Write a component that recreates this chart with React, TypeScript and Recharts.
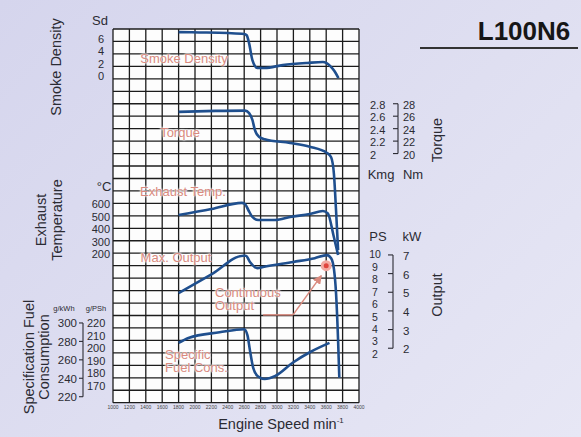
import React from "react";
import {
  LineChart,
  Line,
  XAxis,
  YAxis,
  CartesianGrid,
  ReferenceLine,
  ReferenceDot,
} from "recharts";

const FONT = '"Liberation Sans", Arial, Helvetica, sans-serif';
const INK = "#2b2b33";
const CURVE = "#1f4f8e";
const PINK = "#d98a7e";

// engine speed axis + grid rows
const rpmTicks = [1000, 1200, 1400, 1600, 1800, 2000, 2200, 2400, 2600, 2800, 3000, 3200, 3400, 3600, 3800, 4000];
const gridRows = Array.from({ length: 31 }, (_, i) => i);

// scale tick labels
const sdTicks = [0, 2, 4, 6];
const tempTicks = [200, 300, 400, 500, 600];
const gkwhTicks = [220, 240, 260, 280, 300];
const gpshTicks = [170, 180, 190, 200, 210, 220];
const kmgTicks = [2, 2.2, 2.4, 2.6, 2.8];
const nmTicks = [20, 22, 24, 26, 28];
const psTicks = [2, 3, 4, 5, 6, 7, 8, 9, 10];
const kwTicks = [2, 3, 4, 5, 6, 7];

// each scale only covers a few rows of the common grid (30 rows)
const PLOT_H = 373.7;
const SD_DOMAIN = [-52, 8];
const TEMP_DOMAIN = [-1000, 2000];
const NM_DOMAIN = [-20, 40];
const KMG_DOMAIN = [-2, 4];
const PS_DOMAIN = [-2, 28];
const KW_DOMAIN = [-0.92, 19.11];
const GPSH_DOMAIN = [156, 456];
const GKWH_DOMAIN = [213.5, 618.9];

// curves
const smokeRpm = [1800, 2050, 2400, 2600, 2630, 2660, 2700, 2760, 2850, 3070, 3370, 3560, 3650, 3700, 3750];
const smokeSd = [7.5, 7.45, 7.35, 7.2, 7.0, 5.7, 3.0, 1.75, 1.75, 2.2, 2.55, 2.7, 2.05, 1.25, 0.1];

const torqueRpm = [1800, 2250, 2610, 2660, 2700, 2730, 2780, 2850, 3160, 3400, 3610, 3660, 3695, 3720, 3745];
const torqueNm = [26.7, 26.85, 26.9, 26.5, 25.4, 23.8, 22.7, 22.3, 21.7, 21.1, 20.1, 19.4, 16.6, 10.9, 4.5];

const exhaustRpm = [1800, 2200, 2570, 2610, 2650, 2700, 2770, 2980, 3160, 3400, 3560, 3620, 3690, 3745];
const exhaustC = [507, 555, 604, 595, 547, 491, 467, 467, 491, 515, 539, 520, 340, 186];

const maxOutRpm = [1800, 2200, 2590, 2620, 2670, 2760, 2830, 3200, 3460, 3610, 3660, 3695, 3720, 3745, 3760];
const maxOutPs = [6.8, 8.3, 9.8, 9.8, 9.3, 8.8, 8.9, 9.3, 9.6, 9.85, 9.6, 8.7, 6.8, 3.0, 0];

const fuelRpm = [1800, 1920, 2300, 2600, 2640, 2670, 2710, 2770, 2850, 2980, 3200, 3400, 3640];
const fuelGpsh = [204, 208, 212.5, 215, 210, 198, 184, 177, 175, 177.5, 188.5, 196.5, 204];

const contRpm = 3600;
const contPs = 9;
const contLeader = [
  { x: 2830, y: 5.05 },
  { x: 3195, y: 5.05 },
];
const contArrow = [
  { x: 3195, y: 5.05 },
  { x: 3540, y: 8.2 },
];

const zip = (xs: number[], ys: number[]) => xs.map((rpm, i) => ({ rpm, v: ys[i] }));
const smoke = zip(smokeRpm, smokeSd);
const torque = zip(torqueRpm, torqueNm);
const exhaust = zip(exhaustRpm, exhaustC);
const maxOut = zip(maxOutRpm, maxOutPs);
const fuel = zip(fuelRpm, fuelGpsh);

type TickOpts = {
  tx: number;
  anchor: "start" | "end" | "middle";
  size?: number;
  dy?: number;
  bracket?: { x: number; mark: number; step: number; domain: number[]; top: number };
};

const scaleTick = (o: TickOpts) => (p: any) => {
  const { y, payload } = p;
  const b = o.bracket;
  const stepPx = b ? (PLOT_H * b.step) / (b.domain[1] - b.domain[0]) : 0;
  return (
    <g>
      <text
        x={o.tx}
        y={y + (o.dy ?? 0)}
        textAnchor={o.anchor}
        dominantBaseline="central"
        fontSize={o.size ?? 11}
        fill={INK}
        fontFamily={FONT}
      >
        {payload.value}
      </text>
      {b && <line x1={b.x - b.mark} x2={b.x} y1={y} y2={y} stroke={INK} strokeWidth={1.1} />}
      {b && payload.value < b.top && (
        <line x1={b.x} x2={b.x} y1={y} y2={y - stepPx} stroke={INK} strokeWidth={1.1} />
      )}
    </g>
  );
};

const noTick = () => <g />;

function Note({ x, y, size = 13, color = INK, rotate = false, weight = 400, lh = 1.15, align = "center", halo = false, children }: any) {
  return (
    <div
      style={{
        position: "absolute",
        left: x,
        top: y,
        transform: align === "left" ? "translateY(-50%)" : `translate(-50%,-50%)${rotate ? " rotate(-90deg)" : ""}`,
        fontSize: size,
        color,
        fontWeight: weight,
        whiteSpace: "pre",
        textAlign: align,
        lineHeight: lh,
        fontFamily: FONT,
        textShadow: halo ? "0 0 2px #fff, 0 0 2px #fff, 0 0 3px #fff" : undefined,
      }}
    >
      {children}
    </div>
  );
}

// every scale axis is 1px wide; labels are placed by the tick renderer
const axisCommon = {
  width: 1,
  type: "number" as const,
  allowDataOverflow: true,
  axisLine: false,
  tickLine: false,
  interval: 0 as const,
};

export default function App() {
  return (
    <div
      style={{
        position: "fixed",
        left: 0,
        top: 0,
        width: 581,
        height: 437,
        overflow: "hidden",
        background: "linear-gradient(135deg, #d5d5ed 0%, #dfdff1 55%, #e7e7f5 100%)",
        fontFamily: FONT,
      }}
    >
      <LineChart width={581} height={437} margin={{ top: 29, right: 218, bottom: 24.3, left: 108 }}>
        <defs>
          <marker id="cont-arrow" viewBox="0 0 10 10" refX="9" refY="5" markerWidth="6" markerHeight="6" orient="auto">
            <path d="M0,0 L10,5 L0,10 z" fill={PINK} />
          </marker>
        </defs>
        <XAxis
          dataKey="rpm"
          type="number"
          domain={[1000, 4000]}
          ticks={rpmTicks}
          interval={0}
          allowDataOverflow
          axisLine={false}
          tickLine={false}
          tickSize={0}
          tickMargin={3}
          height={10}
          tick={{ fontSize: 5, fill: "#444", fontFamily: FONT }}
        />
        <YAxis yAxisId="grid" {...axisCommon} domain={[0, 30]} ticks={gridRows} tick={noTick} />
        <YAxis yAxisId="sd" {...axisCommon} domain={SD_DOMAIN} ticks={sdTicks} tick={scaleTick({ tx: 104, anchor: "end", dy: -2.5 })} />
        <YAxis yAxisId="temp" {...axisCommon} domain={TEMP_DOMAIN} ticks={tempTicks} tick={scaleTick({ tx: 110, anchor: "end", dy: 1 })} />
        <YAxis yAxisId="gpsh" {...axisCommon} domain={GPSH_DOMAIN} ticks={gpshTicks} tick={scaleTick({ tx: 87, anchor: "start", dy: 0.5 })} />
        <YAxis
          yAxisId="gkwh"
          {...axisCommon}
          domain={GKWH_DOMAIN}
          ticks={gkwhTicks}
          tick={scaleTick({ tx: 77, anchor: "end", dy: 0.5, size: 11.5, bracket: { x: 83, mark: 4, step: 20, domain: GKWH_DOMAIN, top: 300 } })}
        />
        <YAxis yAxisId="kmg" orientation="right" {...axisCommon} domain={KMG_DOMAIN} ticks={kmgTicks} tick={scaleTick({ tx: 370, anchor: "start", dy: 1 })} />
        <YAxis
          yAxisId="nm"
          orientation="right"
          {...axisCommon}
          domain={NM_DOMAIN}
          ticks={nmTicks}
          tick={scaleTick({ tx: 403, anchor: "start", dy: 1, bracket: { x: 398, mark: 5, step: 2, domain: NM_DOMAIN, top: 28 } })}
        />
        <YAxis yAxisId="ps" orientation="right" {...axisCommon} domain={PS_DOMAIN} ticks={psTicks} tick={scaleTick({ tx: 375, anchor: "middle", dy: 1, size: 10.5 })} />
        <YAxis
          yAxisId="kw"
          orientation="right"
          {...axisCommon}
          domain={KW_DOMAIN}
          ticks={kwTicks}
          tick={scaleTick({ tx: 403, anchor: "start", dy: 1, size: 11.5, bracket: { x: 393, mark: 5, step: 1, domain: KW_DOMAIN, top: 7 } })}
        />

        <CartesianGrid yAxisId="grid" fill="#fdfdfd" fillOpacity={1} stroke="#1c1c1c" strokeWidth={1.3} strokeDasharray="" />

        <Line yAxisId="sd" data={smoke} dataKey="v" type="monotone" stroke={CURVE} strokeWidth={2.6} dot={false} activeDot={false} isAnimationActive={false} />
        <Line yAxisId="nm" data={torque} dataKey="v" type="monotone" stroke={CURVE} strokeWidth={2.6} dot={false} activeDot={false} isAnimationActive={false} />
        <Line yAxisId="temp" data={exhaust} dataKey="v" type="monotone" stroke={CURVE} strokeWidth={2.6} dot={false} activeDot={false} isAnimationActive={false} />
        <Line yAxisId="ps" data={maxOut} dataKey="v" type="monotone" stroke={CURVE} strokeWidth={2.6} dot={false} activeDot={false} isAnimationActive={false} />
        <Line yAxisId="gpsh" data={fuel} dataKey="v" type="monotone" stroke={CURVE} strokeWidth={2.6} dot={false} activeDot={false} isAnimationActive={false} />

        <ReferenceLine yAxisId="ps" segment={contLeader} stroke={PINK} strokeWidth={1.5} />
        <ReferenceLine yAxisId="ps" segment={contArrow} stroke={PINK} strokeWidth={1.5} markerEnd="url(#cont-arrow)" />
        <ReferenceDot yAxisId="ps" x={contRpm} y={contPs} r={4} fill="#e0463e" stroke="#f2aaa2" strokeWidth={3} />
      </LineChart>

      {/* curve names on the grid */}
      <Note x={184} y={59} color={PINK} halo>Smoke Density</Note>
      <Note x={180} y={133} color={PINK} halo>Torque</Note>
      <Note x={183} y={192} color={PINK} halo>Exhaust Temp.</Note>
      <Note x={176} y={258} color={PINK} halo>Max. Output</Note>
      <Note x={215} y={299} color={PINK} halo align="left" lh={1.0}>{"Continuous\nOutput"}</Note>
      <Note x={165} y={361} color={PINK} halo align="left" lh={1.0}>{"Specific\nFuel Cons."}</Note>

      {/* axis titles and units */}
      <Note x={56} y={67} size={14.5} rotate>Smoke Density</Note>
      <Note x={50} y={220} size={14.5} rotate lh={1.1}>{"Exhaust\nTemperature"}</Note>
      <Note x={37} y={357} size={14.5} rotate lh={1.05}>{"Specification Fuel\nConsumption"}</Note>
      <Note x={437} y={140} size={14.5} rotate>Torque</Note>
      <Note x={437} y={295} size={14.5} rotate>Output</Note>

      <Note x={100} y={21} size={13}>Sd</Note>
      <Note x={104} y={187} size={13}>°C</Note>
      <Note x={64} y={309} size={7.5}>g/kWh</Note>
      <Note x={96} y={309} size={7.5}>g/PSh</Note>
      <Note x={381} y={175} size={13}>Kmg</Note>
      <Note x={413} y={175} size={13}>Nm</Note>
      <Note x={378} y={237} size={13}>PS</Note>
      <Note x={412} y={237} size={13}>kW</Note>

      <Note x={281} y={424} size={14.5}>
        Engine Speed min<sup style={{ fontSize: 8 }}>-1</sup>
      </Note>

      <Note x={524} y={32} size={26} weight={700} color="#161616">L100N6</Note>
      <div style={{ position: "absolute", left: 420, top: 47, width: 158, height: 1.5, background: "#333" }} />
    </div>
  );
}
